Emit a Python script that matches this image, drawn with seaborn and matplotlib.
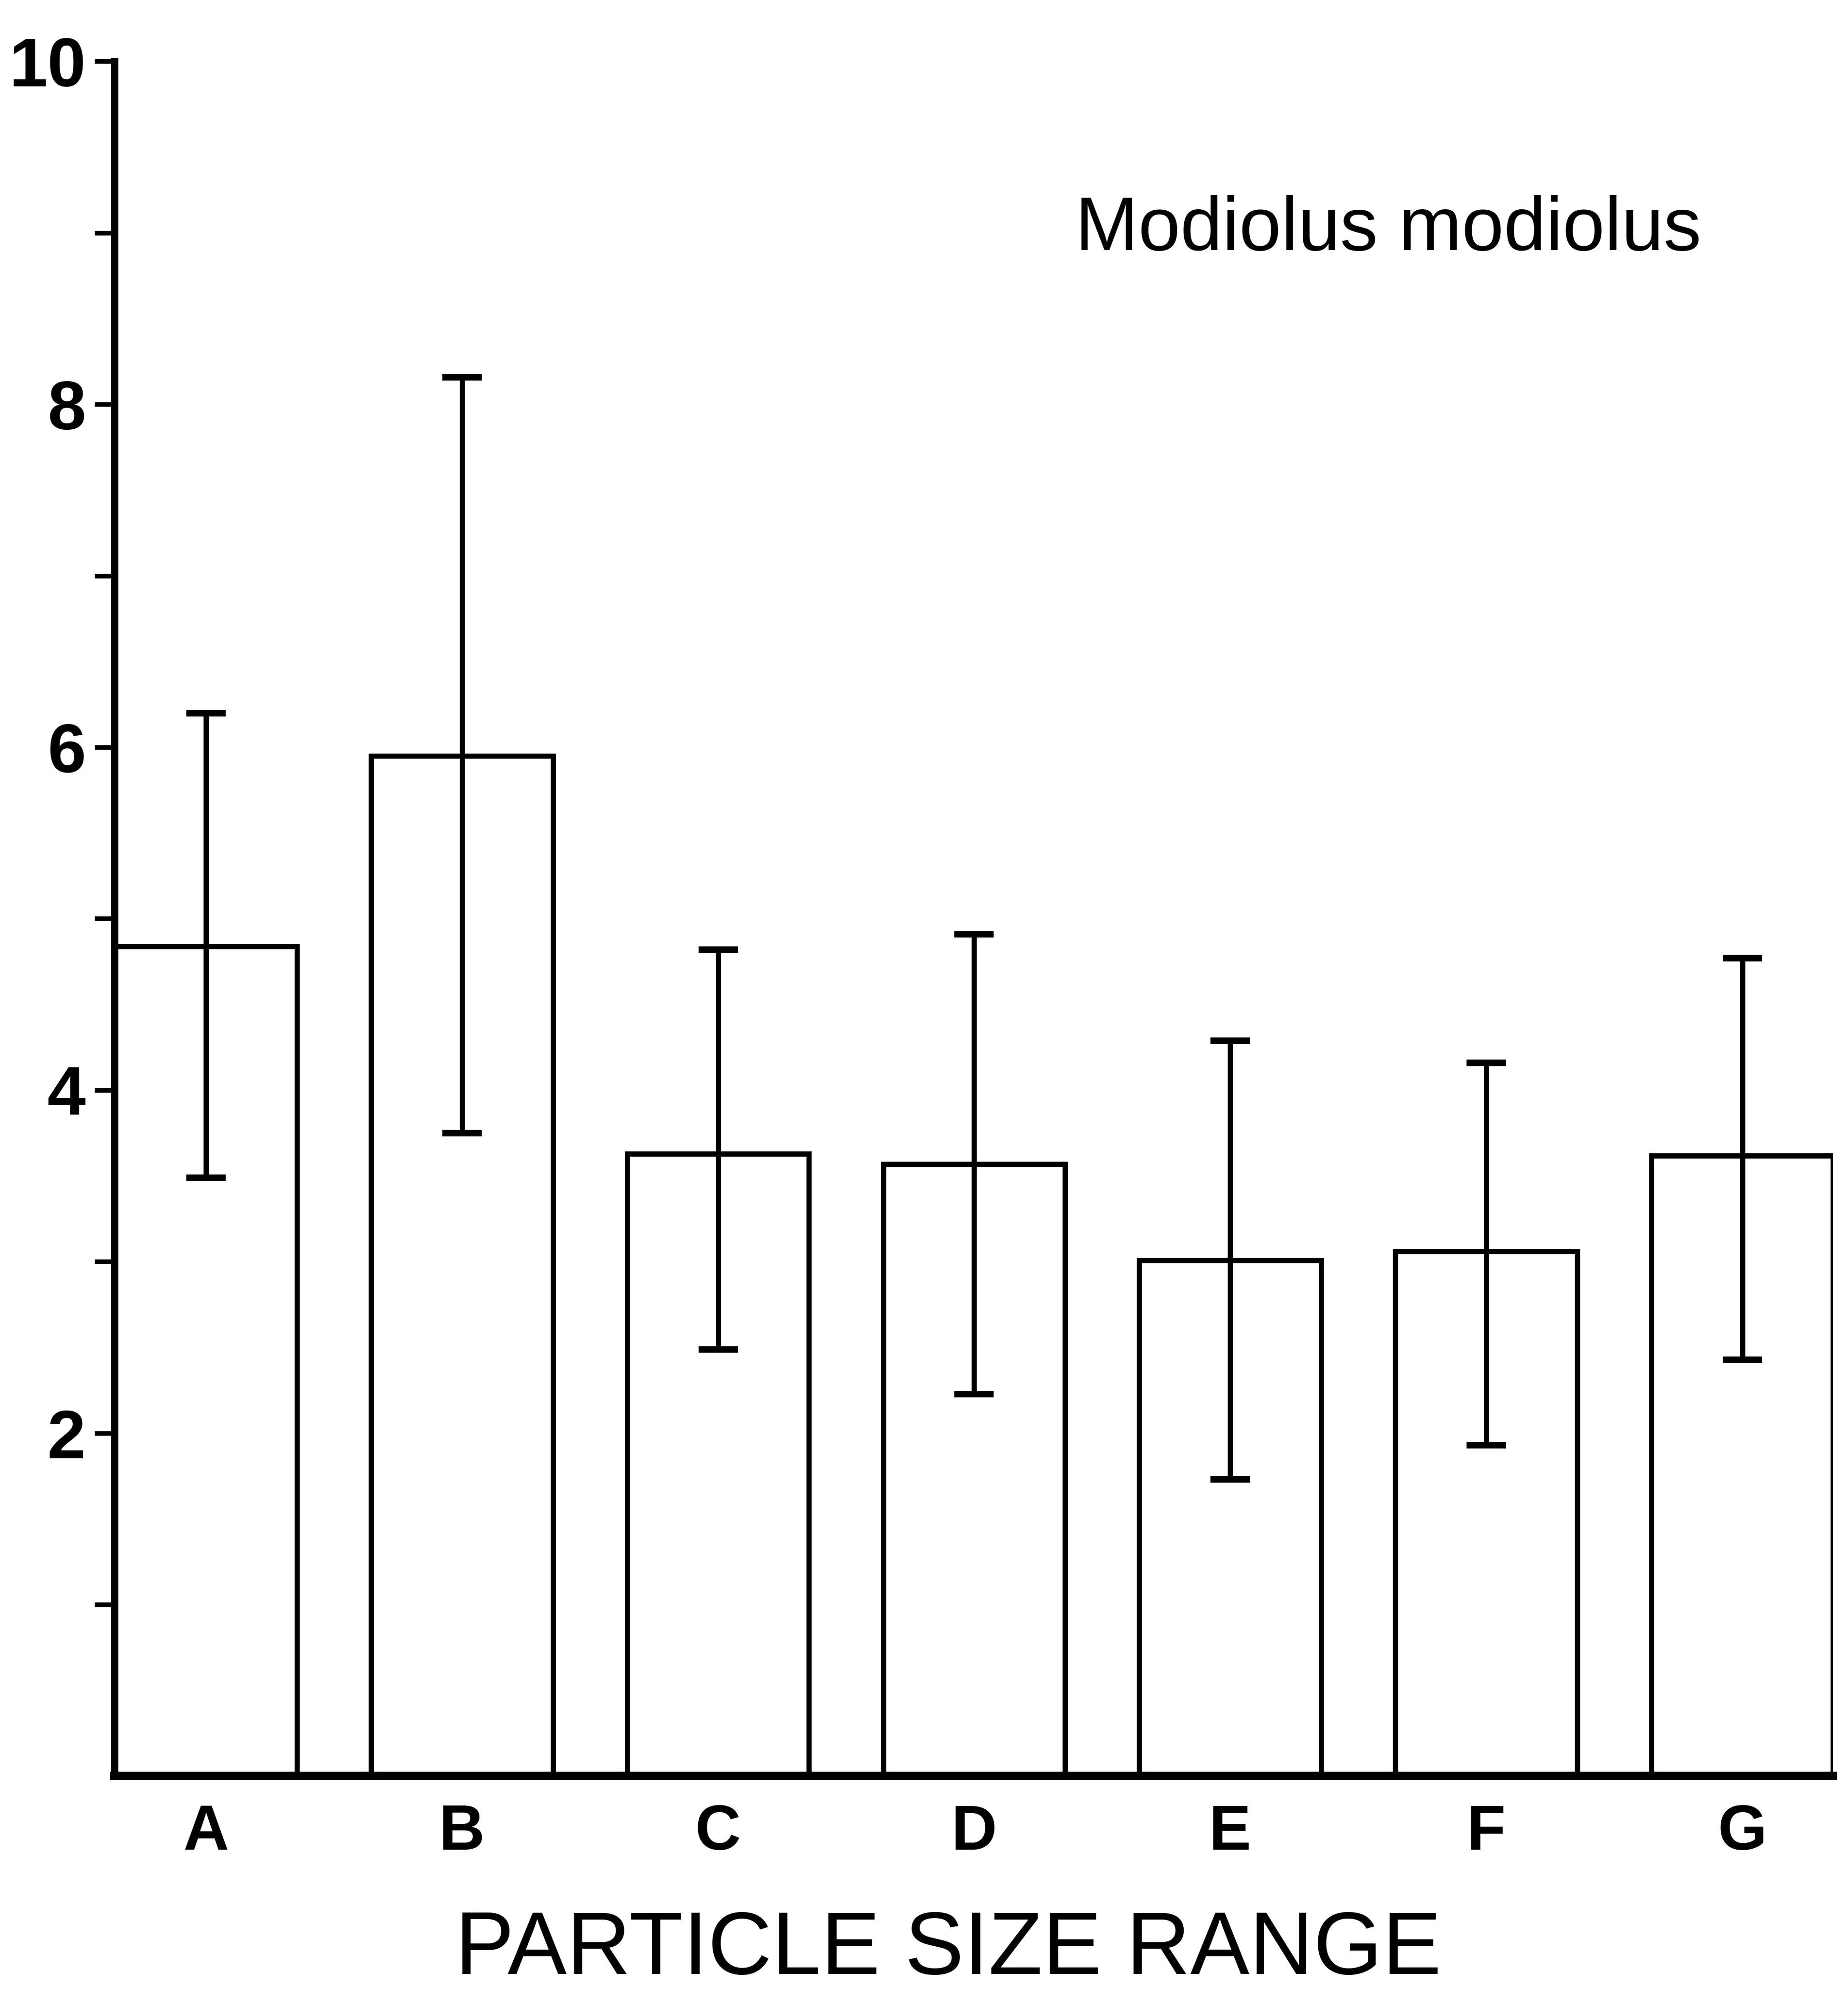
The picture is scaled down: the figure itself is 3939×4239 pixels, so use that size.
import matplotlib
matplotlib.use("Agg")
import matplotlib.pyplot as plt
import seaborn as sns
import numpy as np
import pandas as pd

# ---- data ----
categories = ["A", "B", "C", "D", "E", "F", "G"]
means = [4.84, 5.95, 3.63, 3.57, 3.01, 3.06, 3.62]
err_low = [3.49, 3.75, 2.49, 2.23, 1.73, 1.93, 2.43]
err_high = [6.20, 8.16, 4.82, 4.91, 4.29, 4.16, 4.77]
major_yticks = [2, 4, 6, 8, 10]
minor_yticks = [1, 3, 5, 7, 9]
title_text = "Modiolus modiolus"
xlabel_text = "PARTICLE SIZE RANGE"

sns.set_style("ticks")
plt.rcParams["font.family"] = ["Liberation Sans", "DejaVu Sans"]
plt.rcParams.update({
    "text.color": "black",
    "axes.labelcolor": "black",
    "axes.edgecolor": "black",
    "xtick.color": "black",
    "ytick.color": "black",
})

df = pd.DataFrame({"range": categories, "value": means})

fig = plt.figure(figsize=(39.39, 42.39), dpi=100)
ax = fig.add_axes([0.062, 0.107, 0.930, 0.862])

sns.barplot(data=df, x="range", y="value", color="white", edgecolor="black",
            linewidth=8, width=0.71, saturation=1, ax=ax, zorder=2)

m = np.array(means)
yerr = np.vstack([m - np.array(err_low), np.array(err_high) - m])
ax.errorbar(x=np.arange(len(categories)), y=m, yerr=yerr, fmt="none",
            ecolor="black", elinewidth=8, capsize=30, capthick=10, zorder=3)

ax.set_xlim(-0.357, 6.355)
ax.set_ylim(0, 10)

for s in ["top", "right"]:
    ax.spines[s].set_visible(False)
ax.spines["left"].set_linewidth(11)
ax.spines["bottom"].set_linewidth(13)
ax.spines["left"].set_capstyle("projecting")

ax.set_yticks(major_yticks)
ax.set_yticklabels([str(t) for t in major_yticks], fontsize=106, fontweight="bold")
ax.set_yticks(minor_yticks, minor=True)
ax.tick_params(axis="y", which="both", direction="out", length=30, width=7, pad=14)
ax.tick_params(axis="x", length=0, pad=42)
for lab in ax.get_xticklabels():
    lab.set_fontsize(97)
    lab.set_fontweight("bold")

ax.set_ylabel("")
ax.set_xlabel(xlabel_text, fontsize=136)
ax.xaxis.set_label_coords(0.485, -0.078)
ax.xaxis.label.set_va("top")

ax.text(0.559, 0.89, title_text, transform=ax.transAxes, fontsize=116,
        ha="left", va="baseline")

fig.savefig("out.png", dpi=100, facecolor="white")
